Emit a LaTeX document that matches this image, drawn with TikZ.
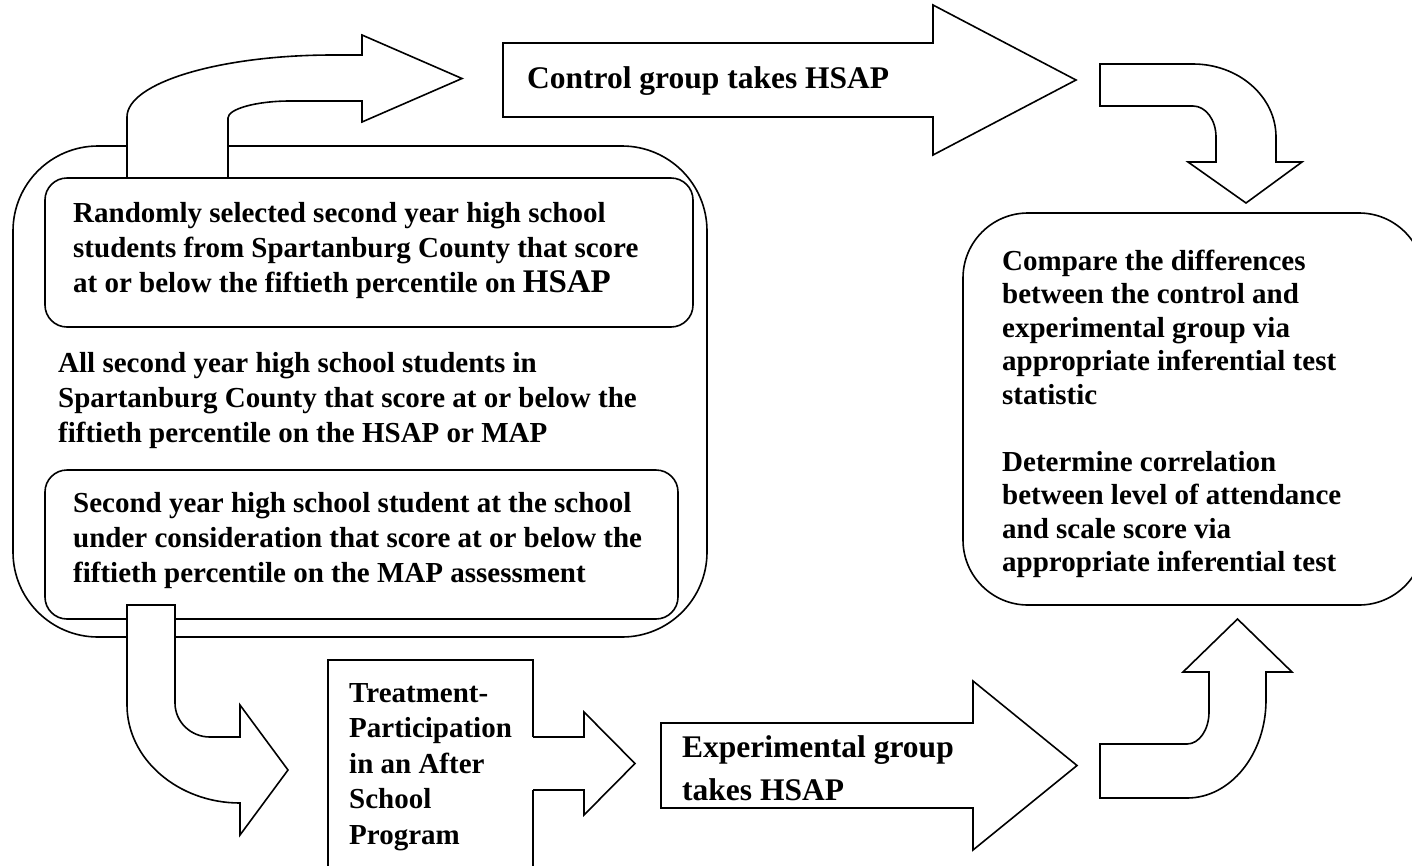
\documentclass[tikz,border=0pt]{standalone}
\usepackage{fontspec}
\setmainfont{Liberation Serif}
\newcommand{\mylines}[1]{\begin{tabular}[t]{@{}l@{}}#1\end{tabular}}
\tikzset{
  blk/.style={draw=black, line width=1.6pt, fill=white, line join=miter},
  edge/.style={draw=black, line width=1.6pt},
  txt/.style={anchor=base west, inner sep=0pt, font=\bfseries\fontsize{29}{35}\selectfont},
  bigtxt/.style={anchor=base west, inner sep=0pt, font=\bfseries\fontsize{31.5}{43}\selectfont},
}
\begin{document}
\begin{tikzpicture}[x=1pt,y=-1pt]
\useasboundingbox (0,0) rectangle (1412,865);
\clip (0,0) rectangle (1412,865);
% left grouping boxes
\draw[blk, rounded corners=85pt] (13,146) rectangle (707,637);
\draw[blk, rounded corners=22pt] (45,178) rectangle (693,327);
\draw[blk, rounded corners=22pt] (45,470) rectangle (678,619);
% bent arrow up-right (top left)
\draw[blk] (127,178) -- (127,117) .. controls (127,83) and (219,55) .. (333,55)
  -- (362,55) -- (362,35) -- (462,78.5) -- (362,122) -- (362,101) -- (290,101)
  .. controls (256,101) and (228,109) .. (228,118) -- (228,178) -- cycle;
% bent arrow down-right (bottom left)
\draw[blk] (127,605) -- (127,705) .. controls (127,759) and (178,803) .. (240,803)
  -- (240,835) -- (288,770) -- (240,705) -- (240,737) -- (210,737)
  .. controls (190.7,737) and (175,721.8) .. (175,703) -- (175,605) -- cycle;
% control group arrow
\draw[blk] (503,43) -- (933,43) -- (933,5) -- (1076,80) -- (933,155) -- (933,117) -- (503,117) -- cycle;
% bent arrow top right (down)
\draw[blk] (1100,64) -- (1193,64) .. controls (1238.8,64) and (1276,96.7) .. (1276,137)
  -- (1276,162) -- (1302,162) -- (1246,203) -- (1188,162) -- (1216,162) -- (1216,137)
  .. controls (1216,119.9) and (1205.7,106) .. (1193,106) -- (1100,106) -- cycle;
% right result box
\draw[blk, rounded corners=65pt] (963,213) rectangle (1424,605);
% bent arrow bottom right (up)
\draw[blk] (1100,744) -- (1187,744) .. controls (1199.2,744) and (1209,729.7) .. (1209,712)
  -- (1209,672) -- (1183,672) -- (1237.5,619) -- (1292,672) -- (1266,672) -- (1266,700)
  .. controls (1266,754.1) and (1230.6,798) .. (1187,798) -- (1100,798) -- cycle;
% experimental group arrow
\draw[blk] (661,723) -- (973,723) -- (973,681) -- (1077,765.5) -- (973,850) -- (973,808) -- (661,808) -- cycle;
% treatment box and its arrow
\draw[edge] (533,737) -- (533,660) -- (328,660) -- (328,880);
\draw[edge] (533,790) -- (533,880);
\draw[edge] (533,737) -- (584,737) -- (584,712) -- (635,763.5) -- (584,815) -- (584,790) -- (533,790);
% texts
\node[txt] (sample) at (73,222) {\mylines{Randomly selected second year high school\\students from Spartanburg County that score\\at or below the fiftieth percentile on {\fontsize{33}{35}\selectfont HSAP}}};
\node[txt] (population) at (58,372) {\mylines{All second year high school students in\\Spartanburg County that score at or below the\\fiftieth percentile on the HSAP or MAP}};
\node[txt] (school) at (73,512) {\mylines{Second year high school student at the school\\under consideration that score at or below the\\fiftieth percentile on the MAP assessment}};
\node[bigtxt] (control) at (527,88) {Control group takes HSAP};
\node[txt, font=\bfseries\fontsize{29}{33.5}\selectfont] (compare) at (1002,270) {\mylines{Compare the differences\\between the control and\\experimental group via\\appropriate inferential test\\statistic\\[33.5pt]Determine correlation\\between level of attendance\\and scale score via\\appropriate inferential test}};
\node[txt, font=\bfseries\fontsize{29}{35.5}\selectfont] (treatment) at (349,702) {\mylines{Treatment-\\Participation\\in an After\\School\\Program}};
\node[bigtxt] (experimental) at (682,757) {\mylines{Experimental group\\takes HSAP}};
\end{tikzpicture}
\end{document}
